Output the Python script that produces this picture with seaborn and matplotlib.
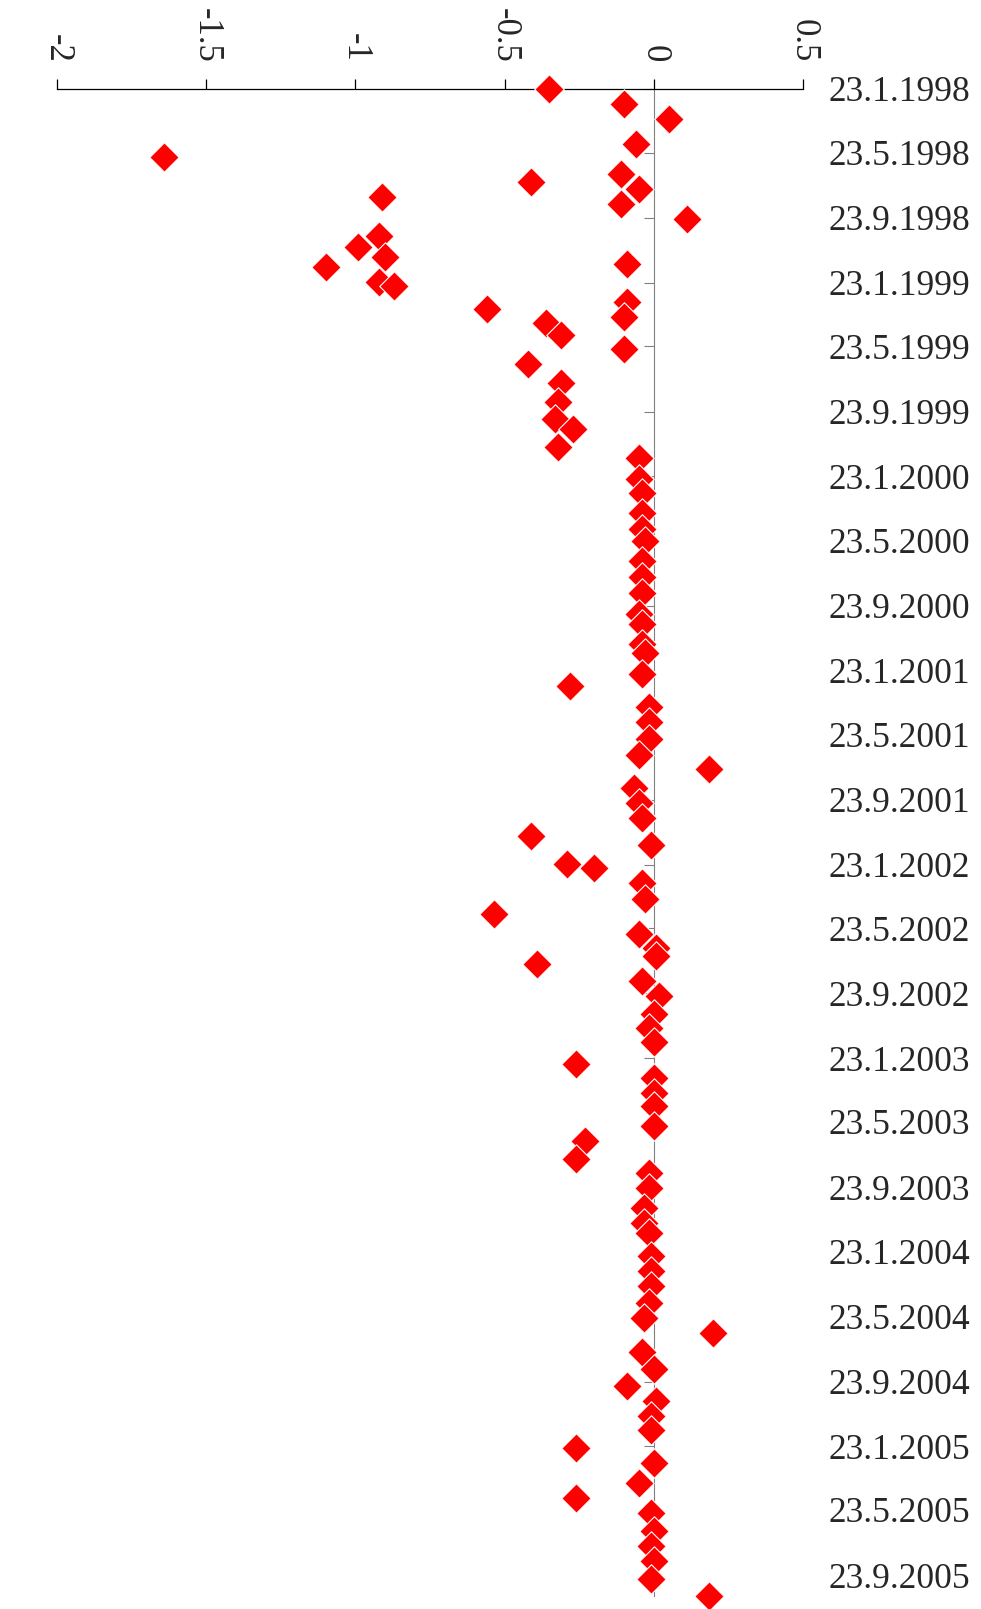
import pandas as pd
import matplotlib.pyplot as plt
import seaborn as sns

dates = [
    "1998-01-23", "1998-02-21", "1998-03-21", "1998-05-07", "1998-05-31",
    "1998-07-02", "1998-07-17", "1998-07-30", "1998-08-14", "1998-08-28",
    "1998-09-25", "1998-10-27", "1998-11-16", "1998-12-05", "1998-12-19",
    "1998-12-24", "1999-01-21", "1999-01-30", "1999-02-28", "1999-03-14",
    "1999-03-28", "1999-04-09", "1999-05-01", "1999-05-28", "1999-06-26",
    "1999-07-31", "1999-09-04", "1999-10-07", "1999-10-25", "1999-11-28",
    "1999-12-20", "2000-01-28", "2000-02-24", "2000-04-01", "2000-05-01",
    "2000-05-23", "2000-06-30", "2000-07-30", "2000-08-30", "2000-10-09",
    "2000-10-27", "2000-12-04", "2000-12-21", "2001-01-29", "2001-02-21",
    "2001-04-01", "2001-04-29", "2001-05-31", "2001-07-01", "2001-07-27",
    "2001-09-01", "2001-09-29", "2001-10-28", "2001-11-30", "2001-12-17",
    "2002-01-22", "2002-01-30", "2002-02-27", "2002-03-29", "2002-04-26",
    "2002-06-03", "2002-06-30", "2002-07-15", "2002-07-29", "2002-08-30",
    "2002-09-27", "2002-10-31", "2002-11-27", "2002-12-23", "2003-02-03",
    "2003-03-02", "2003-03-30", "2003-04-23", "2003-05-30", "2003-06-27",
    "2003-07-31", "2003-08-27", "2003-09-25", "2003-11-01", "2003-11-30",
    "2003-12-18", "2004-01-30", "2004-02-27", "2004-03-27", "2004-04-28",
    "2004-05-27", "2004-06-24", "2004-07-29", "2004-08-30", "2004-10-01",
    "2004-10-29", "2004-11-27", "2004-12-24", "2005-01-26", "2005-02-24",
    "2005-04-02", "2005-05-01", "2005-05-29", "2005-07-01", "2005-07-29",
    "2005-08-27", "2005-09-30", "2005-11-01",
]
values = [
    -0.35, -0.10, 0.05, -0.06, -1.64, -0.11, -0.41, -0.05, -0.91, -0.11,
    0.11, -0.92, -0.99, -0.90, -0.09, -1.10, -0.92, -0.87, -0.09, -0.56,
    -0.10, -0.36, -0.31, -0.10, -0.42, -0.31, -0.32, -0.33, -0.27, -0.32,
    -0.05, -0.05, -0.04, -0.04, -0.04, -0.03, -0.04, -0.04, -0.04, -0.05,
    -0.04, -0.04, -0.03, -0.04, -0.28, -0.016, -0.016, -0.016, -0.05, 0.185,
    -0.066, -0.05, -0.04, -0.41, -0.008, -0.29, -0.20, -0.04, -0.03, -0.535,
    -0.05, 0.009, 0.009, -0.39, -0.04, 0.018, 0.0, -0.016, 0.0, -0.26,
    0.0, 0.0, 0.0, 0.0, -0.23, -0.26, -0.016, -0.016, -0.033, -0.033,
    -0.016, -0.008, -0.008, -0.008, -0.016, -0.033, 0.20, -0.04, 0.0, -0.09,
    0.009, -0.008, -0.008, -0.26, 0.0, -0.05, -0.26, -0.008, 0.0, -0.008,
    0.0, -0.008, 0.185,
]

date_ticks = [
    "23.1.1998", "23.5.1998", "23.9.1998",
    "23.1.1999", "23.5.1999", "23.9.1999",
    "23.1.2000", "23.5.2000", "23.9.2000",
    "23.1.2001", "23.5.2001", "23.9.2001",
    "23.1.2002", "23.5.2002", "23.9.2002",
    "23.1.2003", "23.5.2003", "23.9.2003",
    "23.1.2004", "23.5.2004", "23.9.2004",
    "23.1.2005", "23.5.2005", "23.9.2005",
]
value_ticks = [-2, -1.5, -1, -0.5, 0, 0.5]
value_tick_labels = ["-2", "-1.5", "-1", "-0.5", "0", "0.5"]

sns.set_style("white")
plt.rcParams["font.family"] = ["Liberation Serif", "DejaVu Serif"]
plt.rcParams["axes.unicode_minus"] = False

df = pd.DataFrame({"date": pd.to_datetime(dates), "value": values})

fig = plt.figure(figsize=(9.81, 16.09), dpi=100)
ax = fig.add_axes([0.0581, 0.0081, 0.7604, 0.9366])

sns.scatterplot(
    data=df, x="value", y="date", ax=ax,
    marker="D", s=225, color="#ff0000",
    edgecolor="white", linewidth=0.8,
    clip_on=False, zorder=3,
)

ax.set_xlim(-2, 0.5)
ax.set_ylim(pd.Timestamp("2005-11-01"), pd.Timestamp("1998-01-23"))

# value axis across the top, labels turned on their side
ax.xaxis.tick_top()
ax.set_xticks(value_ticks)
ax.set_xticklabels(value_tick_labels)
ax.tick_params(axis="x", top=True, bottom=False, direction="out",
               length=7.2, width=0.9, color="black", pad=12,
               labelsize=25, labelrotation=-90)

# date ticks sit on the zero line, labels out on the right
tick_pos = pd.to_datetime(date_ticks, format="%d.%m.%Y")
ax.set_yticks(tick_pos)
ax.set_yticklabels(date_ticks)
ax.tick_params(axis="y", left=True, right=False, labelleft=False,
               labelright=True, direction="out", length=7.2, width=0.8,
               color="#808080", pad=11.5, labelsize=25.5)

ax.spines["left"].set_position(("data", 0))
ax.spines["left"].set_color("#808080")
ax.spines["left"].set_linewidth(0.8)
ax.spines["top"].set_color("black")
ax.spines["top"].set_linewidth(0.9)
ax.spines["right"].set_visible(False)
ax.spines["bottom"].set_visible(False)
ax.set_xlabel("")
ax.set_ylabel("")

fig.savefig("out.png", dpi=100)
plt.close(fig)
